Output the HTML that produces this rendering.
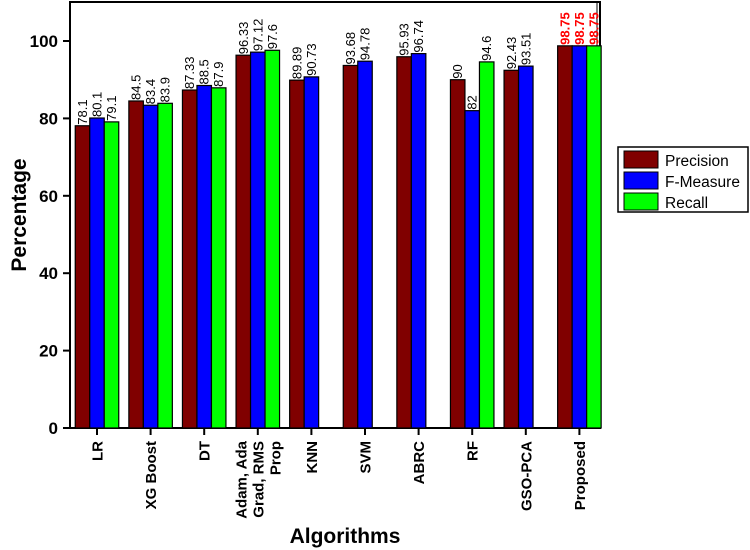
<!DOCTYPE html>
<html><head><meta charset="utf-8"><style>
body{margin:0;background:#fff;}
svg{display:block;font-family:"Liberation Sans",Arial,sans-serif;}
</style></head><body>
<svg id="chart" width="750" height="550">
<rect x="70" y="2" width="530" height="426" fill="none" stroke="#000" stroke-width="2"/>
<line x1="597" y1="2" x2="597" y2="428" stroke="#000" stroke-width="1"/>
<g id="bars"></g><g id="yaxis"></g><g id="xaxis"></g>
<text x="26" y="215" transform="rotate(-90 26 215)" text-anchor="middle" font-size="21" font-weight="bold">Percentage</text>
<text x="345" y="543" text-anchor="middle" font-size="21" font-weight="bold">Algorithms</text>
<g>
<rect x="618" y="147" width="130" height="65" fill="#fff" stroke="#000" stroke-width="1.5"/>
<g><rect x="624" y="151" width="34" height="17" fill="#800000" stroke="#000"/><text x="665" y="166" font-size="15.5">Precision</text></g>
<g><rect x="624" y="172" width="34" height="17" fill="#0000ff" stroke="#000"/><text x="665" y="187" font-size="15.5">F-Measure</text></g>
<g><rect x="624" y="193" width="34" height="17" fill="#00ff00" stroke="#000"/><text x="665" y="208" font-size="15.5">Recall</text></g>
</g>
</svg>
<script>
const categories=["LR","XG Boost","DT","Adam, Ada|Grad, RMS|Prop","KNN","SVM","ABRC","RF","GSO-PCA","Proposed"];
const precision=[78.1,84.5,87.33,96.33,89.89,93.68,95.93,90,92.43,98.75];
const fmeasure=[80.1,83.4,88.5,97.12,90.73,94.78,96.74,82,93.51,98.75];
const recall=[79.1,83.9,87.9,97.6,null,null,null,94.6,null,98.75];
const precisionLabels=["78.1","84.5","87.33","96.33","89.89","93.68","95.93","90","92.43","98.75"];
const fmeasureLabels=["80.1","83.4","88.5","97.12","90.73","94.78","96.74","82","93.51","98.75"];
const recallLabels=["79.1","83.9","87.9","97.6","","","","94.6","","98.75"];
const yTicks=[0,20,40,60,80,100];
const NS="http://www.w3.org/2000/svg";
const y0=428, yScale=3.87, x0=97, step=53.6, bw=14.5;
function yPos(v){return y0-v*yScale;}
function xPos(i){return x0+i*step;}
function mk(tag,attrs,parent){const e=document.createElementNS(NS,tag);for(const k in attrs)e.setAttribute(k,attrs[k]);parent.appendChild(e);return e;}
const bars=document.getElementById('bars');
const series=[[precision,precisionLabels,"#800000","precision"],[fmeasure,fmeasureLabels,"#0000ff","f-measure"],[recall,recallLabels,"#00ff00","recall"]];
series.forEach((s,si)=>{
  s[0].forEach((v,i)=>{
    if(v===null)return;
    const x=xPos(i)+(si-1)*bw-bw/2;
    const r=mk('rect',{x:x,y:yPos(v),width:bw,height:v*yScale,fill:s[2],stroke:'#000','stroke-width':1.2},bars);
    
    
    const tx=x+bw/2+4.5, ty=yPos(v)-1;
    const t=mk('text',{x:tx,y:ty,transform:`rotate(-90 ${tx} ${ty})`,'font-size':13,fill:i===9?'#ff0000':'#000','font-weight':i===9?'bold':'normal'},bars);
    t.textContent=s[1][i];
    
    
  });
});
const ya=document.getElementById('yaxis');
yTicks.forEach(v=>{
  const l=mk('line',{x1:63,x2:70,y1:yPos(v),y2:yPos(v),stroke:'#000','stroke-width':2},ya);
  
  
  const t=mk('text',{x:58,y:yPos(v)+6,'text-anchor':'end','font-size':17,'font-weight':'bold'},ya);
  t.textContent=v;
  
  
});
const xa=document.getElementById('xaxis');
categories.forEach((c,i)=>{
  const x=xPos(i);
  const l=mk('line',{x1:x,x2:x,y1:428,y2:435,stroke:'#000','stroke-width':2},xa);
  
  
  const lines=c.split('|');
  lines.forEach((ln,j)=>{
    const tx=x+5.5+(j-(lines.length-1)/2)*17, ty=441;
    const t=mk('text',{x:tx,y:ty,transform:`rotate(-90 ${tx} ${ty})`,'text-anchor':'end','font-size':15,'font-weight':'bold'},xa);
    t.textContent=ln;
    
    
  });
});
</script>
</body></html>
